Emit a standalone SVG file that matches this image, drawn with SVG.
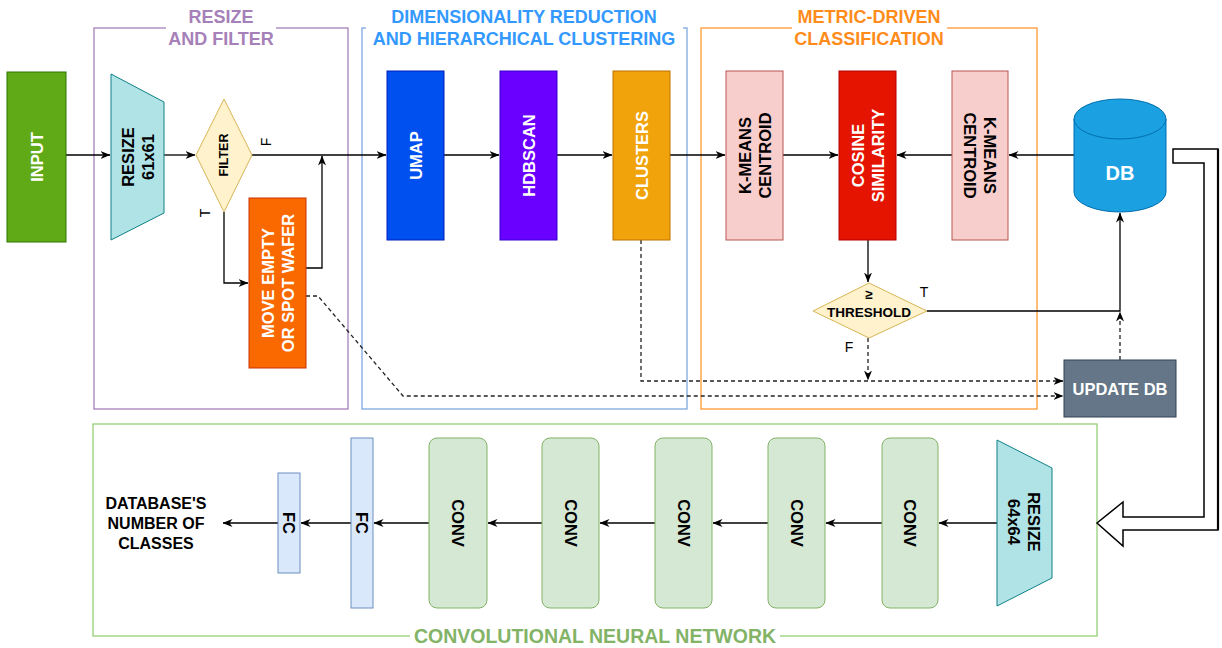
<svg xmlns="http://www.w3.org/2000/svg" width="1222" height="648" viewBox="0 0 1222 648">
<style>
.t{font-family:"Liberation Sans",Arial,Helvetica,sans-serif;font-weight:bold;text-anchor:middle;dominant-baseline:central}
.n{font-size:16.5px}
.w{fill:#ffffff}
.k{fill:#000000}
.gt{font-size:18px}
.lbl{font-family:"Liberation Sans",Arial,sans-serif;font-size:14px;text-anchor:middle;dominant-baseline:central;fill:#000}
.c{fill:none;stroke:#000;stroke-width:1.3}
.d{fill:none;stroke:#222;stroke-width:1.3;stroke-dasharray:4 3}
.grp{fill:none;stroke-width:1.3}
</style>
<defs>
<marker id="a" viewBox="0 0 10 8" refX="9.5" refY="4" markerWidth="10" markerHeight="8" markerUnits="userSpaceOnUse" orient="auto">
<path d="M0,0 L10,4 L0,8 L3,4 Z" fill="#000"/>
</marker>
</defs>
<rect width="1222" height="648" fill="#ffffff"/>

<!-- groups -->
<g id="group-resize">
<rect class="grp" x="94" y="28" width="254" height="381" stroke="#a680b8"/>
<rect x="166" y="6" width="110" height="46" fill="#fff"/>
<text class="t gt" fill="#a680b8" x="221" y="17">RESIZE</text>
<text class="t gt" fill="#a680b8" x="221" y="39">AND FILTER</text>
</g>
<g id="group-dimred">
<rect class="grp" x="362" y="28" width="325" height="381" stroke="#7ea6e0"/>
<rect x="366" y="6" width="317" height="46" fill="#fff"/>
<text class="t gt" fill="#3399ff" x="524" y="17">DIMENSIONALITY REDUCTION</text>
<text class="t gt" fill="#3399ff" x="524" y="39">AND HIERARCHICAL CLUSTERING</text>
</g>
<g id="group-metric">
<rect class="grp" x="701" y="28" width="336" height="381" stroke="#ff9933"/>
<rect x="792" y="6" width="155" height="46" fill="#fff"/>
<text class="t gt" fill="#ff8c1a" x="869" y="17">METRIC-DRIVEN</text>
<text class="t gt" fill="#ff8c1a" x="869" y="39">CLASSIFICATION</text>
</g>
<g id="group-cnn">
<rect class="grp" x="93" y="424" width="1004" height="212" stroke="#97d077"/>
<rect x="410" y="626" width="370" height="20" fill="#fff"/>
<text class="t" font-size="19.5" fill="#82b366" x="595" y="636">CONVOLUTIONAL NEURAL NETWORK</text>
</g>

<!-- connectors -->
<g id="connectors">
<path class="c" d="M66,155 L110,155" marker-end="url(#a)"/>
<path class="c" d="M164,155 L195,155" marker-end="url(#a)"/>
<path class="c" d="M252,155 L386,155" marker-end="url(#a)"/>
<path class="c" d="M224,212 L224,283 L248,283" marker-end="url(#a)"/>
<path class="c" d="M306,268 L322,268 L322,156" marker-end="url(#a)"/>
<path class="c" d="M444,155 L499,155" marker-end="url(#a)"/>
<path class="c" d="M557,155 L612,155" marker-end="url(#a)"/>
<path class="c" d="M670,155 L725,155" marker-end="url(#a)"/>
<path class="c" d="M783,155 L838,155" marker-end="url(#a)"/>
<path class="c" d="M952,155 L897,155" marker-end="url(#a)"/>
<path class="c" d="M1074,155 L1009,155" marker-end="url(#a)"/>
<path class="c" d="M868,240 L868,282" marker-end="url(#a)"/>
<path class="c" d="M927,311 L1120,311 L1120,213" marker-end="url(#a)"/>
<path class="d" d="M868,338 L868,380" marker-end="url(#a)"/>
<path class="d" d="M1120,360 L1120,312" marker-end="url(#a)"/>
<path class="d" d="M641,240 L641,381 L1063,381" marker-end="url(#a)"/>
<path class="d" d="M306,296 L318,296 L403,396 L1063,396" marker-end="url(#a)"/>
<path d="M1173,149 L1218,149 L1218,530 L1123,530 L1123,546 L1097,523 L1123,502 L1123,517 L1204,517 L1204,163 L1173,163 Z" fill="#fff" stroke="#000" stroke-width="1.5"/>
<path d="M1218,149 L1218,530" fill="none" stroke="#000" stroke-width="2.2"/>
<path class="c" d="M997,523 L939,523" marker-end="url(#a)"/>
<path class="c" d="M882,523 L826,523" marker-end="url(#a)"/>
<path class="c" d="M768,523 L713,523" marker-end="url(#a)"/>
<path class="c" d="M655,523 L600,523" marker-end="url(#a)"/>
<path class="c" d="M542,523 L488,523" marker-end="url(#a)"/>
<path class="c" d="M429,523 L374,523" marker-end="url(#a)"/>
<path class="c" d="M351,523 L301,523" marker-end="url(#a)"/>
<path class="c" d="M278,523 L223,523" marker-end="url(#a)"/>
<text class="lbl" transform="translate(266,142) rotate(-90)">F</text>
<text class="lbl" transform="translate(205,213) rotate(-90)">T</text>
<text class="lbl" x="924" y="292">T</text>
<text class="lbl" x="849" y="347">F</text>
</g>

<!-- nodes -->
<g id="input">
<rect x="7" y="72" width="59" height="170" fill="#60a917" stroke="#2d7600"/>
<text class="t n w" transform="translate(36.5,157) rotate(-90)">INPUT</text>
</g>
<g id="resize61">
<polygon points="111,74 164,102 164,213 111,240" fill="#b0e3e6" stroke="#0e8088"/>
<text class="t n k" transform="translate(137.5,157) rotate(-90)"><tspan x="0" dy="-10">RESIZE</tspan><tspan x="0" dy="20">61x61</tspan></text>
</g>
<g id="filter">
<polygon points="224,99 252,155 224,212 196,155" fill="#fff2cc" stroke="#d6b656"/>
<text class="t k" font-size="12.5" transform="translate(224,155) rotate(-90)">FILTER</text>
</g>
<g id="move-empty">
<rect x="249" y="198" width="57" height="170" fill="#fa6800" stroke="#c73500"/>
<text class="t n w" transform="translate(277.5,283) rotate(-90)"><tspan x="0" dy="-10">MOVE EMPTY</tspan><tspan x="0" dy="20">OR SPOT WAFER</tspan></text>
</g>
<g id="umap">
<rect x="387" y="71" width="57" height="169" fill="#0050ef" stroke="#001dbc"/>
<text class="t n w" transform="translate(415.5,155.5) rotate(-90)">UMAP</text>
</g>
<g id="hdbscan">
<rect x="500" y="71" width="57" height="169" fill="#6a00ff" stroke="#3700cc"/>
<text class="t n w" transform="translate(528.5,155.5) rotate(-90)">HDBSCAN</text>
</g>
<g id="clusters">
<rect x="613" y="71" width="57" height="169" fill="#f0a30a" stroke="#bd7000"/>
<text class="t n w" transform="translate(641.5,155.5) rotate(-90)">CLUSTERS</text>
</g>
<g id="kmeans1">
<rect x="726" y="71" width="57" height="169" fill="#f8cecc" stroke="#b85450"/>
<text class="t n k" transform="translate(754.5,155.5) rotate(-90)"><tspan x="0" dy="-10">K-MEANS</tspan><tspan x="0" dy="20">CENTROID</tspan></text>
</g>
<g id="cosine">
<rect x="839" y="71" width="57" height="169" fill="#e51400" stroke="#b20000"/>
<text class="t n w" transform="translate(867.5,155.5) rotate(-90)"><tspan x="0" dy="-10">COSINE</tspan><tspan x="0" dy="20">SIMILARITY</tspan></text>
</g>
<g id="kmeans2">
<rect x="952" y="71" width="56" height="169" fill="#f8cecc" stroke="#b85450"/>
<text class="t n k" transform="translate(980,155.5) rotate(90)"><tspan x="0" dy="-10">K-MEANS</tspan><tspan x="0" dy="20">CENTROID</tspan></text>
</g>
<g id="threshold">
<polygon points="869,283 927,311 869,338 813,311" fill="#fff2cc" stroke="#d6b656"/>
<text class="t k" font-size="13.5" x="869" y="294">≥</text>
<text class="t k" font-size="13.5" x="869" y="312">THRESHOLD</text>
</g>
<g id="db">
<path d="M1074,119 A46,20 0 0 1 1166,119 L1166,192 A46,20 0 0 1 1074,192 Z" fill="#1ba1e2" stroke="#006eaf"/>
<path d="M1074,119 A46,20 0 0 0 1166,119" fill="none" stroke="#006eaf"/>
<text class="t w" font-size="20" x="1120" y="173">DB</text>
</g>
<g id="update-db">
<rect x="1064" y="360" width="112" height="57" fill="#647687" stroke="#314354"/>
<text class="t n w" x="1120" y="388.5">UPDATE DB</text>
</g>
<g id="resize64">
<polygon points="997,440 1052,468 1052,578 997,606" fill="#b0e3e6" stroke="#0e8088"/>
<text class="t n k" transform="translate(1023.5,522) rotate(90)"><tspan x="0" dy="-10">RESIZE</tspan><tspan x="0" dy="20">64x64</tspan></text>
</g>
<g id="conv5">
<rect x="882" y="438" width="56" height="170" rx="8" fill="#d5e8d4" stroke="#82b366"/>
<text class="t n k" transform="translate(910,523) rotate(90)">CONV</text>
</g>
<g id="conv4">
<rect x="768" y="438" width="57" height="170" rx="8" fill="#d5e8d4" stroke="#82b366"/>
<text class="t n k" transform="translate(796.5,523) rotate(90)">CONV</text>
</g>
<g id="conv3">
<rect x="655" y="438" width="57" height="170" rx="8" fill="#d5e8d4" stroke="#82b366"/>
<text class="t n k" transform="translate(683.5,523) rotate(90)">CONV</text>
</g>
<g id="conv2">
<rect x="542" y="438" width="57" height="170" rx="8" fill="#d5e8d4" stroke="#82b366"/>
<text class="t n k" transform="translate(570.5,523) rotate(90)">CONV</text>
</g>
<g id="conv1">
<rect x="429" y="438" width="58" height="170" rx="8" fill="#d5e8d4" stroke="#82b366"/>
<text class="t n k" transform="translate(458,523) rotate(90)">CONV</text>
</g>
<g id="fc2">
<rect x="351" y="438" width="22" height="170" fill="#dae8fc" stroke="#6c8ebf"/>
<text class="t n k" transform="translate(362,523) rotate(90)">FC</text>
</g>
<g id="fc1">
<rect x="278" y="473" width="22" height="100" fill="#dae8fc" stroke="#6c8ebf"/>
<text class="t n k" transform="translate(289,523) rotate(90)">FC</text>
</g>
<g id="output-label">
<text class="t k" font-size="16" x="156" y="503">DATABASE'S</text>
<text class="t k" font-size="16" x="156" y="523">NUMBER OF</text>
<text class="t k" font-size="16" x="156" y="543">CLASSES</text>
</g>
</svg>
